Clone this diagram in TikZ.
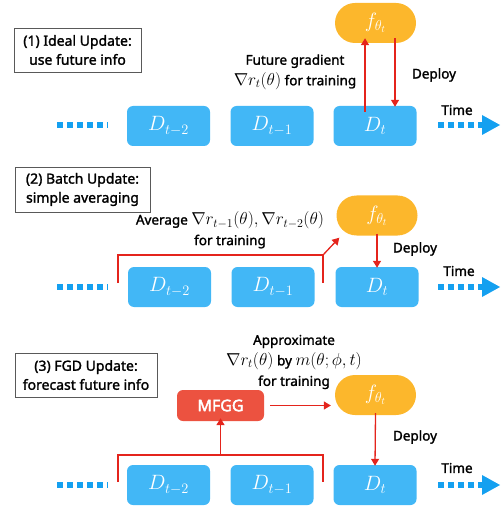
\documentclass[tikz,border=0pt]{standalone}
\usepackage{fontspec}
\setmainfont{Noto Sans}
\newfontfamily\heavy{Noto Sans}[FakeBold=1.6]
\newfontfamily\heavier{Noto Sans}[FakeBold=2.4]
\usetikzlibrary{arrows.meta,calc}
\definecolor{dblue}{RGB}{66,183,246}
\definecolor{dotblue}{RGB}{20,160,240}
\definecolor{forange}{RGB}{252,183,44}
\definecolor{myred}{RGB}{228,36,28}
\definecolor{mfgg}{RGB}{236,82,64}
\newcommand{\mth}[1]{{\fontsize{17}{20}\selectfont$#1$}}
\tikzset{
  dbox/.style={fill=dblue, rounded corners=6pt, minimum width=83pt, minimum height=40pt, text=white, inner sep=0pt, font=\fontsize{20}{22}\selectfont},
  fbox/.style={fill=forange, rounded corners=20pt, minimum width=81pt, minimum height=40pt, text=white, inner sep=0pt, font=\fontsize{20}{22}\selectfont},
  lbl/.style={draw=black!65, line width=0.8pt, align=center, fill=white, inner sep=0pt, font=\fontsize{14}{19}\selectfont\heavy},
  txt/.style={align=center, inner sep=0pt, font=\fontsize{13.5}{20.5}\selectfont\heavy},
  redarr/.style={draw=myred, line width=1.3pt, -{Triangle[width=8pt,length=7pt]}},
  redline/.style={draw=myred, line width=1.3pt},
  bdots/.style={draw=dotblue, line width=6pt, dash pattern=on 6pt off 4pt},
  tip/.style={fill=dotblue, draw=none}
}
\begin{document}
\begin{tikzpicture}[x=1pt,y=-1pt]
\useasboundingbox (0,0) rectangle (500,510);

% ---------- Panel 1 ----------
\node[lbl, minimum width=127pt, minimum height=44pt] (l1) at (77.5,50) {(1) Ideal Update:\\use future info};
\node[dbox] (a1) at (168.5,126) {$D_{t-2}$};
\node[dbox] (a2) at (272,126) {$D_{t-1}$};
\node[dbox] (a3) at (375,126) {$D_{t}$};
\node[fbox] (af) at (375.5,23) {$f_{\theta_t}$};
\node[txt] (at) at (295,72) {Future gradient\\\mth{\nabla r_t(\theta)} for training};
\node[txt] (ad) at (434,75) {Deploy};
\node[txt] (atime) at (457,110) {Time};
\coordinate (al0) at (57,125);
\coordinate (al1) at (108,125);
\draw[bdots] (al0) -- (al1);
\coordinate (ar0) at (438,125);
\coordinate (ar1) at (482,125);
\draw[bdots] (ar0) -- (ar1);
\coordinate (ar2) at (500,125);
\fill[tip] ($(ar1)+(0,-10)$) -- (ar2) -- ($(ar1)+(0,10)$) -- cycle;
\coordinate (ax1) at (365,0);
\coordinate (ax2) at (395,0);
\draw[redarr] ([yshift=-6pt]a3.north -| ax1) -- ([yshift=5pt]af.south -| ax1);
\draw[redarr] ([yshift=5pt]af.south -| ax2) -- ([yshift=-1pt]a3.north -| ax2);

% ---------- Panel 2 ----------
\node[lbl, minimum width=135pt, minimum height=45pt] (l2) at (82.5,189.5) {(2) Batch Update:\\simple averaging};
\node[dbox] (b1) at (169.5,287) {$D_{t-2}$};
\node[dbox] (b2) at (273,287) {$D_{t-1}$};
\node[dbox] (b3) at (377,287) {$D_{t}$};
\node[fbox] (bf) at (377,215.5) {$f_{\theta_t}$};
\node[txt] (bt) at (230,230) {Average \mth{\nabla r_{t-1}(\theta), \nabla r_{t-2}(\theta)}\\for training};
\node[txt] (bd) at (415,249) {Deploy};
\node[txt] (btime) at (459,271) {Time};
\coordinate (bl0) at (57,287);
\coordinate (bl1) at (108,287);
\draw[bdots] (bl0) -- (bl1);
\coordinate (br0) at (438,287);
\coordinate (br1) at (482,287);
\draw[bdots] (br0) -- (br1);
\coordinate (br2) at (500,287);
\fill[tip] ($(br1)+(0,-10)$) -- (br2) -- ($(br1)+(0,10)$) -- cycle;
\coordinate (bk0) at (118,283);
\coordinate (bk1) at (118,255);
\coordinate (bk2) at (323,255);
\coordinate (bk3) at (323,283);
\draw[redline] (bk0) -- (bk1) -- (bk2) -- (bk3);
\draw[redarr] (bk2) -- ([shift={(3pt,-2pt)}]bf.south west);
\draw[redarr] ([yshift=2pt]bf.south) -- ([yshift=-1pt]b3.north);

% ---------- Panel 3 ----------
\node[lbl, minimum width=142pt, minimum height=44pt] (l3) at (86,375) {(3) FGD Update:\\forecast future info};
\node[dbox] (c1) at (168.5,485) {$D_{t-2}$};
\node[dbox] (c2) at (272,485) {$D_{t-1}$};
\node[dbox] (c3) at (375,485) {$D_{t}$};
\node[fbox] (cf) at (375.5,395) {$f_{\theta_t}$};
\node[fill=mfgg, rounded corners=6pt, minimum width=87pt, minimum height=31pt, text=white, inner sep=0pt, font=\fontsize{16}{18}\selectfont\heavier] (cm) at (220.5,405.5) {MFGG};
\node[txt] (ct) at (294,362) {Approximate\\\mth{\nabla r_t(\theta)} by \mth{m(\theta;\phi,t)}\\for training};
\node[txt] (cd) at (415,437) {Deploy};
\node[txt] (ctime) at (457,468) {Time};
\coordinate (cl0) at (57,485);
\coordinate (cl1) at (108,485);
\draw[bdots] (cl0) -- (cl1);
\coordinate (cr0) at (438,485);
\coordinate (cr1) at (482,485);
\draw[bdots] (cr0) -- (cr1);
\coordinate (cr2) at (500,485);
\fill[tip] ($(cr1)+(0,-10)$) -- (cr2) -- ($(cr1)+(0,10)$) -- cycle;
\coordinate (ck0) at (118,482);
\coordinate (ck1) at (118,455);
\coordinate (ck2) at (323,455);
\coordinate (ck3) at (323,482);
\coordinate (ckm) at (220.5,455);
\draw[redline] (ck0) -- (ck1) -- (ck2) -- (ck3);
\draw[redarr] (ckm) -- ([yshift=3pt]cm.south);
\draw[redarr] ([xshift=6pt]cm.east) -- ([xshift=-4pt]cm.east -| cf.west);
\draw[redarr] ([yshift=2pt]cf.south) -- ([yshift=-1pt]c3.north);
\end{tikzpicture}
\end{document}
